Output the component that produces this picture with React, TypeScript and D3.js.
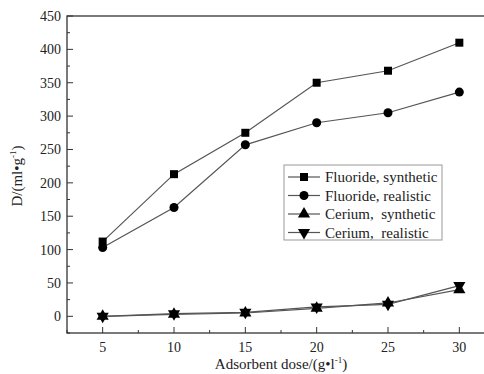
import React from 'react';
import * as d3 from 'd3';

const doses = [5, 10, 15, 20, 25, 30];
const fluorideSynthetic = [112, 213, 275, 350, 368, 410];
const fluorideRealistic = [103, 163, 257, 290, 305, 336];
const ceriumSynthetic = [0, 3, 5, 12, 20, 40];
const ceriumRealistic = [0, 4, 6, 14, 18, 46];
const seriesNames = ['Fluoride, synthetic', 'Fluoride, realistic', 'Cerium,\u00a0 synthetic', 'Cerium,\u00a0 realistic'];
const yTicks = [0, 50, 100, 150, 200, 250, 300, 350, 400, 450];
const xTicks = [5, 10, 15, 20, 25, 30];

const W = 484;
const H = 374;
const font = '"Liberation Serif", "Times New Roman", serif';

const x = d3.scaleLinear().domain([2.5, 32.5]).range([67, 495]);
const y = d3.scaleLinear().domain([-25, 450]).range([333, 16]);

const series = [fluorideSynthetic, fluorideRealistic, ceriumSynthetic, ceriumRealistic];
const symbols = [d3.symbolSquare, d3.symbolCircle, d3.symbolTriangle, d3.symbolTriangle];
const symSizes = [64, 64, 64, 64];

function Marker({ i, cx, cy }: { i: number; cx: number; cy: number }) {
  const p = d3.symbol().type(symbols[i]).size(symSizes[i])()!;
  const rot = i === 3 ? 180 : 0;
  return <path d={p} transform={`translate(${cx},${cy}) rotate(${rot})`} fill="#000" />;
}

export default function App() {
  const line = d3.line<number>().x((_, i) => x(doses[i])).y(d => y(d));
  const yMinor = d3.range(-25, 451, 25).filter(v => v % 50 !== 0);
  const xMinor = d3.range(2.5, 33, 2.5).filter(v => v % 5 !== 0);
  const legX = 284, legY = 165;
  return (
    <svg width={W} height={H} style={{ position: 'absolute', left: 0, top: 0 }} fontFamily={font}>
      <rect width={W} height={H} fill="#fff" />
      {series.map((s, i) => (
        <path key={i} d={line(s)!} fill="none" stroke="#555" strokeWidth={1.2} />
      ))}
      {series.map((s, i) =>
        s.map((v, j) => <Marker key={`${i}-${j}`} i={i} cx={x(doses[j])} cy={y(v)} />)
      )}
      {/* frame */}
      <rect x={x(2.5)} y={y(450)} width={x(32.5) - x(2.5)} height={y(-25) - y(450)} fill="none" stroke="#333" strokeWidth={1.3} />
      {yTicks.map(t => (
        <g key={t}>
          <line x1={x(2.5)} x2={x(2.5) + 6} y1={y(t)} y2={y(t)} stroke="#333" />
          <text x={61} y={y(t) + 5} textAnchor="end" fontSize={14} fill="#222">{t}</text>
        </g>
      ))}
      {yMinor.map(t => (
        <line key={t} x1={x(2.5)} x2={x(2.5) + 3} y1={y(t)} y2={y(t)} stroke="#333" />
      ))}
      {xTicks.map(t => (
        <g key={t}>
          <line x1={x(t)} x2={x(t)} y1={y(-25)} y2={y(-25) - 6} stroke="#333" />
          <text x={x(t)} y={352} textAnchor="middle" fontSize={14} fill="#222">{t}</text>
        </g>
      ))}
      {xMinor.map(t => (
        <line key={t} x1={x(t)} x2={x(t)} y1={y(-25)} y2={y(-25) - 3} stroke="#333" />
      ))}
      <text x={281} y={369} textAnchor="middle" fontSize={15} fill="#222">
        Adsorbent dose/(g•l<tspan dy={-6} fontSize={9}>-1</tspan><tspan dy={6}>)</tspan>
      </text>
      <text transform="translate(22,176) rotate(-90)" textAnchor="middle" fontSize={15} fill="#222">
        D/(ml•g<tspan dy={-6} fontSize={9}>-1</tspan><tspan dy={6}>)</tspan>
      </text>
      {/* legend */}
      <rect x={legX} y={legY} width={158} height={75} fill="#fff" stroke="#999" strokeWidth={1} />
      {seriesNames.map((n, i) => {
        const ry = legY + 12 + i * 18.5;
        return (
          <g key={n}>
            <line x1={legX + 4} x2={legX + 36} y1={ry} y2={ry} stroke="#555" strokeWidth={1.2} />
            <Marker i={i} cx={legX + 20} cy={ry} />
            <text x={legX + 41} y={ry + 5} fontSize={15} fill="#222">{n}</text>
          </g>
        );
      })}
    </svg>
  );
}
